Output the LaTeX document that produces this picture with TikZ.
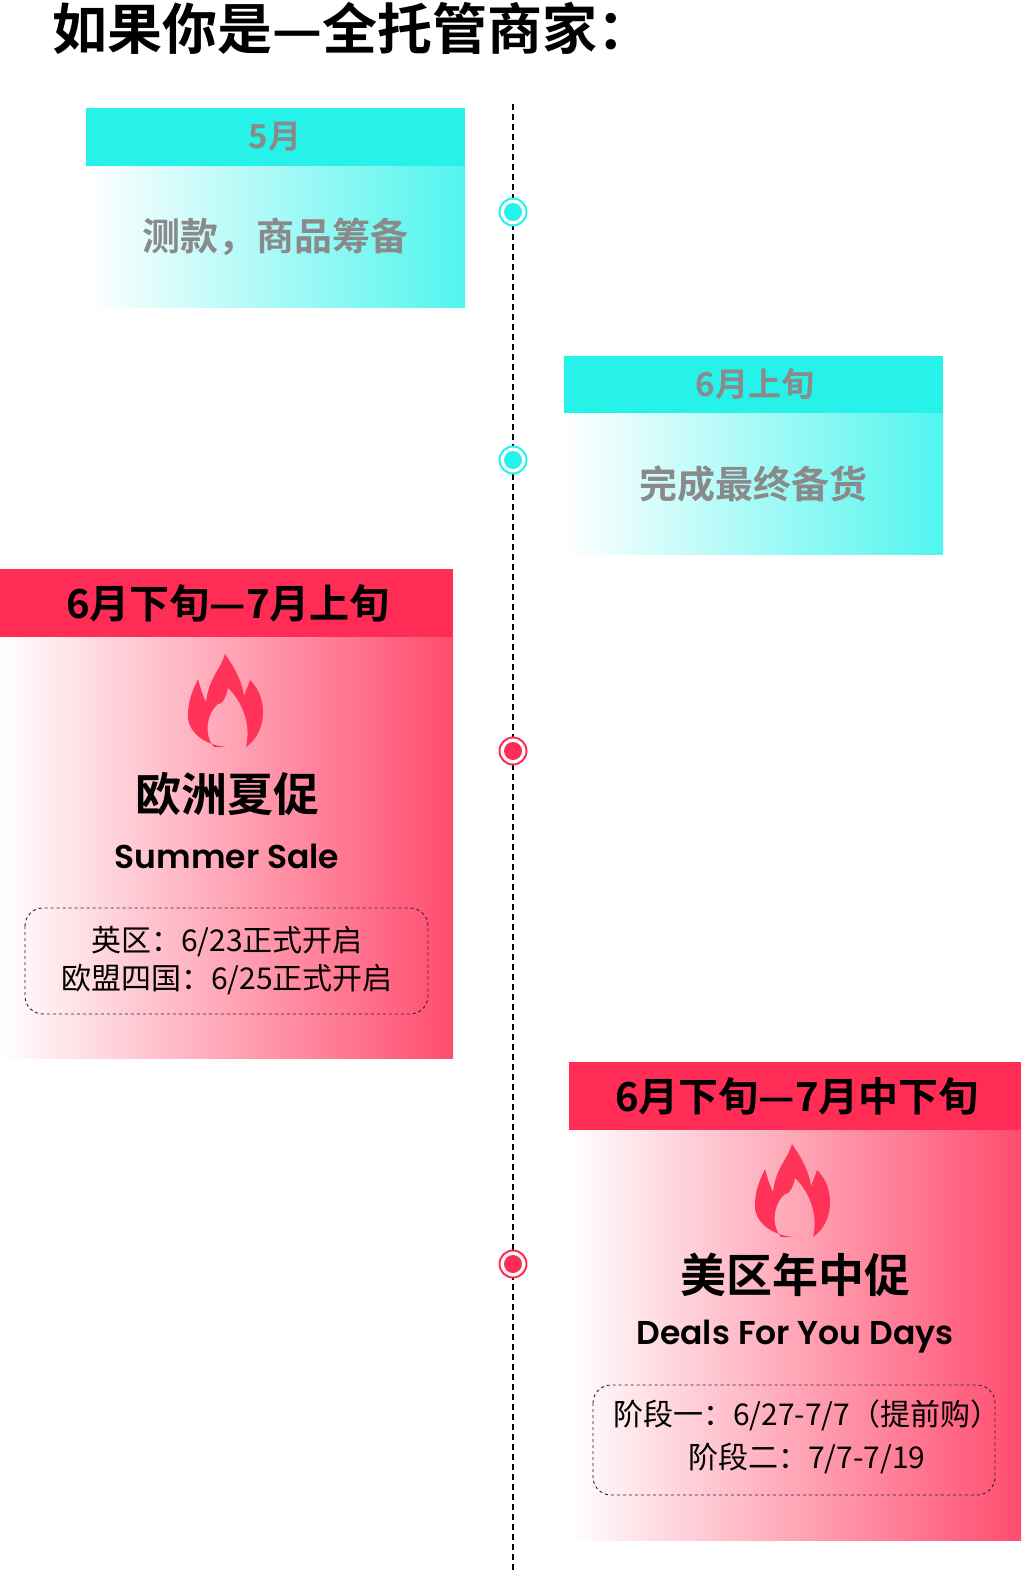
\documentclass[tikz,border=0pt]{standalone}
\usepackage{fontspec}
\setmainfont{Noto Sans CJK SC}[BoldFont={* Bold}]
\newfontfamily\cjkb{Noto Sans CJK SC Bold}
\newfontfamily\popb{Poppins}[BoldFont={* SemiBold}]
\definecolor{cyanC}{HTML}{26F2EA}
\definecolor{redC}{HTML}{FF2D55}
\definecolor{fireC}{HTML}{FF3358}
\definecolor{greyT}{HTML}{8A8A8A}
\tikzset{
 hdr/.style={font=\cjkb\fontsize{40}{46}\selectfont},
 greytxt/.style={font=\cjkb\fontsize{38}{44}\selectfont, text=greyT},
 dashbox/.style={draw=black!85, dashed, rounded corners=18pt, line width=0.9pt},
 small/.style={font=\fontsize{30}{36}\selectfont},
 flame/.pic={\fill[fireC] (0,45) .. controls (-28,42) and (-40,25) .. (-38,10)
   .. controls (-37,-5) and (-32,-14) .. (-28,-23)
   .. controls (-25,-12) and (-23,-6) .. (-20,0)
   .. controls (-17,-25) and (-5,-33) .. (-1,-48)
   .. controls (10,-32) and (16,-20) .. (18,-6)
   .. controls (20,-11) and (22,-16) .. (24,-22)
   .. controls (42,-5) and (42,30) .. (20,45)
   .. controls (26,20) and (14,-3) .. (2,-14)
   .. controls (0,-3) and (-5,3) .. (-8,2)
   .. controls (-20,12) and (-22,34) .. (-12,45) -- cycle;}
}
\begin{document}
\begin{tikzpicture}[x=1pt,y=-1pt]
\useasboundingbox (0,0) rectangle (1026,1574);
\fill[white] (0,0) rectangle (1026,1574);
\node[anchor=west, inner sep=0, font=\cjkb\fontsize{55}{60}\selectfont] (title) at (52,28) {如果你是—全托管商家：};
% timeline
\coordinate (ttop) at (513,104);
\coordinate (tbot) at (513,1574);
\draw[line width=1.4pt, dash pattern=on 6pt off 4pt] (ttop) -- (tbot);
% cyan box 1
\shade[left color=white, right color=cyanC!80] (86,166) rectangle (465,307);
\fill[cyanC] (86,108) rectangle (465,166);
\node[greytxt, font=\cjkb\fontsize{33}{38}\selectfont] (h1) at (275,137) {5月};
\node[greytxt] (b1) at (275,237) {测款，商品筹备};
% cyan box 2
\shade[left color=white, right color=cyanC!80] (564,413) rectangle (943,554);
\fill[cyanC] (564,356) rectangle (943,413);
\node[greytxt, font=\cjkb\fontsize{33}{38}\selectfont] (h2) at (755,384) {6月上旬};
\node[greytxt] (b2) at (753,484) {完成最终备货};
% red box 1
\shade[left color=white, right color=redC!85] (0,637) rectangle (453,1058);
\fill[redC] (0,569) rectangle (453,637);
\node[hdr] (h3) at (228,603) {6月下旬—7月上旬};
\pic at (226,702) {flame};
\node[hdr, font=\cjkb\fontsize{46}{52}\selectfont] (t3) at (227,794) {欧洲夏促};
\node[font=\popb\bfseries\fontsize{33}{40}\selectfont] (e3) at (227,856) {Summer Sale};
\draw[dashbox] (25,908) rectangle (428,1014);
\node[small, align=center] (d3) at (227,961) {英区：6/23正式开启\\[2pt]欧盟四国：6/25正式开启};
% red box 2
\shade[left color=white, right color=redC!85] (569,1130) rectangle (1021,1540);
\fill[redC] (569,1062) rectangle (1021,1130);
\node[hdr] (h4) at (797,1096) {6月下旬—7月中下旬};
\pic at (793,1192) {flame};
\node[hdr, font=\cjkb\fontsize{46}{52}\selectfont] (t4) at (795,1275) {美区年中促};
\node[font=\popb\bfseries\fontsize{33}{40}\selectfont] (e4) at (795,1337) {Deals For You Days};
\draw[dashbox] (593,1385) rectangle (995,1495);
\node[small, anchor=west, inner sep=0] (d4a) at (613,1415) {阶段一：6/27-7/7（提前购）};
\node[small, anchor=west, inner sep=0] (d4b) at (688,1458) {阶段二：7/7-7/19};
% markers
\foreach \y/\c/\n in {212/cyanC/m1, 460/cyanC/m2, 751/redC/m3, 1264/redC/m4}{
  \node[circle, draw=\c, line width=2pt, fill=white, minimum size=27pt, inner sep=0] (\n) at (513,\y) {};
  \fill[\c] (\n.center) circle (9pt);
}
\end{tikzpicture}
\end{document}
